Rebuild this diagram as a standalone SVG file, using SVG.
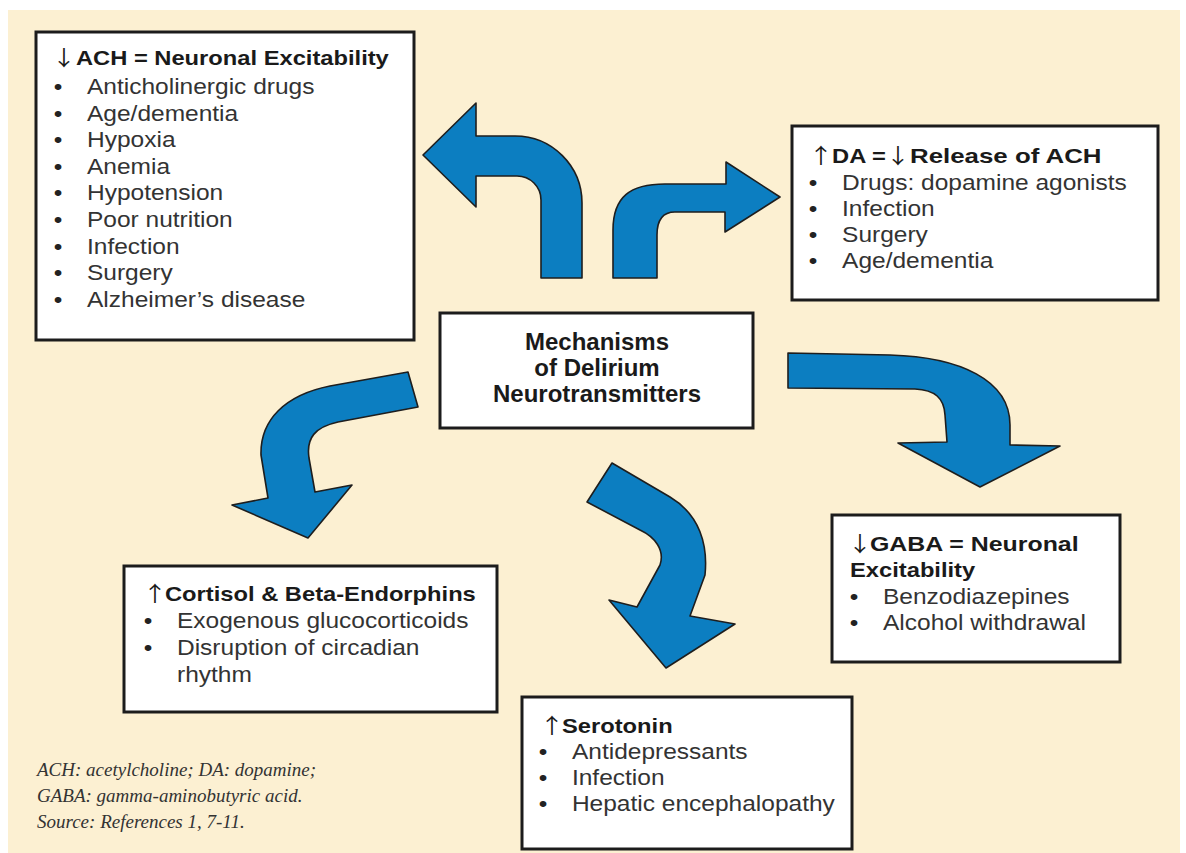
<svg xmlns="http://www.w3.org/2000/svg" width="1186" height="853" viewBox="0 0 1186 853">
  <style>
    .bg { fill: #FCF0D2; }
    .box { fill: #ffffff; stroke: #1c1c1c; stroke-width: 3; }
    .arrow { fill: #0C7EC1; stroke: #1e1e1e; stroke-width: 1.6; stroke-linejoin: round; }
    .hd { font-family: "Liberation Sans", "DejaVu Sans", Arial, sans-serif; font-weight: bold; font-size: 20.8px; fill: #1a1a1a; }
    .ar { font-family: "Noto Sans CJK JP", "DejaVu Sans", sans-serif; font-size: 21px; fill: #1a1a1a; }
    .it { font-family: "Liberation Sans", Arial, sans-serif; font-size: 21.5px; fill: #333333; }
    .bu { font-family: "Liberation Sans", Arial, sans-serif; font-size: 21.5px; fill: #222222; text-anchor: middle; }
    .ti { font-family: "Liberation Sans", Arial, sans-serif; font-weight: bold; font-size: 24px; fill: #1a1a1a; text-anchor: middle; }
    .fn { font-family: "Liberation Serif", "Times New Roman", serif; font-style: italic; font-size: 19px; fill: #333333; }
  </style>

  <!-- page background -->
  <rect x="0" y="0" width="1186" height="853" fill="#ffffff"/>
  <rect class="bg" x="8" y="10" width="1172" height="843"/>

  <!-- curved block arrows leading out of the central box -->
  <g id="connectors">
    <!-- up, then left to the ACH box -->
    <path class="arrow" d="M 582,278 L 582,203 A 67,67 0 0 0 515,136 L 476,136 L 476,103 L 423,155 L 476,207 L 476,176 L 517,176 A 24,24 0 0 1 541,200 L 541,278 Z"/>
    <!-- up, then right to the DA box -->
    <path class="arrow" d="M 613,278 L 613,230 C 613,197 630,184 665,184 L 726,184 L 726,162 L 780,197 L 725,232 L 725,212 L 675,212 C 663,212 657,220 657,235 L 657,278 Z"/>
    <!-- down-left to the cortisol box -->
    <path class="arrow" d="M 408,372 L 330,386 C 285,395 260,420 261,455 L 268,498 L 232,505 L 308,538 L 352,485 L 315,492 L 309,458 C 306,438 315,427 338,422 L 418,407 Z"/>
    <!-- down to the serotonin box -->
    <path class="arrow" d="M 612,463 L 670,497 C 700,515 708,545 705,575 L 690,616 L 735,624 L 666,668 L 609,600 L 637,607 L 660,565 C 665,550 655,537 640,530 L 587,502 Z"/>
    <!-- right, then down to the GABA box -->
    <path class="arrow" d="M 788,353 L 890,355 C 960,357 1010,380 1010,425 L 1010,445 L 1060,446 L 980,487 L 898,443 L 947,442 L 945,415 C 944,398 935,390 915,389 L 788,388 Z"/>
  </g>

  <g id="node-ach">
    <rect class="box" x="36" y="32" width="378" height="308"/>
    <g transform="translate(52,0) scale(1.14,1)">
      <text class="ar" x="0" y="65">↓</text>
      <text class="hd" x="21" y="65">ACH = Neuronal Excitability</text>
      <text class="bu" x="5.3" y="94">•</text><text class="it" x="30.7" y="94">Anticholinergic drugs</text>
      <text class="bu" x="5.3" y="120.6">•</text><text class="it" x="30.7" y="120.6">Age/dementia</text>
      <text class="bu" x="5.3" y="147.2">•</text><text class="it" x="30.7" y="147.2">Hypoxia</text>
      <text class="bu" x="5.3" y="173.8">•</text><text class="it" x="30.7" y="173.8">Anemia</text>
      <text class="bu" x="5.3" y="200.4">•</text><text class="it" x="30.7" y="200.4">Hypotension</text>
      <text class="bu" x="5.3" y="227">•</text><text class="it" x="30.7" y="227">Poor nutrition</text>
      <text class="bu" x="5.3" y="253.6">•</text><text class="it" x="30.7" y="253.6">Infection</text>
      <text class="bu" x="5.3" y="280.2">•</text><text class="it" x="30.7" y="280.2">Surgery</text>
      <text class="bu" x="5.3" y="306.8">•</text><text class="it" x="30.7" y="306.8">Alzheimer’s disease</text>
    </g>
  </g>

  <g id="node-da">
    <rect class="box" x="792" y="126" width="366" height="174"/>
    <g transform="translate(809,0) scale(1.14,1)">
      <text class="ar" x="0" y="163">↑</text>
      <text class="hd" x="20.2" y="163">DA =</text>
      <text class="ar" x="67.5" y="163">↓</text>
      <text class="hd" x="88.6" y="163" textLength="168" lengthAdjust="spacingAndGlyphs">Release of ACH</text>
      <text class="bu" x="3.5" y="190">•</text><text class="it" x="29" y="190">Drugs: dopamine agonists</text>
      <text class="bu" x="3.5" y="216">•</text><text class="it" x="29" y="216">Infection</text>
      <text class="bu" x="3.5" y="242">•</text><text class="it" x="29" y="242">Surgery</text>
      <text class="bu" x="3.5" y="268">•</text><text class="it" x="29" y="268">Age/dementia</text>
    </g>
  </g>

  <g id="node-center">
    <rect class="box" x="440" y="313" width="313" height="115"/>
    <text class="ti" x="597" y="350">Mechanisms</text>
    <text class="ti" x="597" y="376">of Delirium</text>
    <text class="ti" x="597" y="402">Neurotransmitters</text>
  </g>

  <g id="node-cortisol">
    <rect class="box" x="124" y="566" width="373" height="146"/>
    <g transform="translate(143,0) scale(1.14,1)">
      <text class="ar" x="0" y="601.5">↑</text>
      <text class="hd" x="19.3" y="601.5">Cortisol &amp; Beta-Endorphins</text>
      <text class="bu" x="4.4" y="628.5">•</text><text class="it" x="29.8" y="628.5">Exogenous glucocorticoids</text>
      <text class="bu" x="4.4" y="655.5">•</text><text class="it" x="29.8" y="655.5">Disruption of circadian</text>
      <text class="it" x="29.8" y="682.5">rhythm</text>
    </g>
  </g>

  <g id="node-serotonin">
    <rect class="box" x="522" y="697" width="330" height="152"/>
    <g transform="translate(540,0) scale(1.14,1)">
      <text class="ar" x="0" y="733">↑</text>
      <text class="hd" x="19.3" y="733">Serotonin</text>
      <text class="bu" x="2.6" y="759">•</text><text class="it" x="28" y="759">Antidepressants</text>
      <text class="bu" x="2.6" y="785">•</text><text class="it" x="28" y="785">Infection</text>
      <text class="bu" x="2.6" y="811">•</text><text class="it" x="28" y="811">Hepatic encephalopathy</text>
    </g>
  </g>

  <g id="node-gaba">
    <rect class="box" x="832" y="515" width="288" height="147"/>
    <g transform="translate(848,0) scale(1.14,1)">
      <text class="ar" x="0" y="551">↓</text>
      <text class="hd" x="19.3" y="551" textLength="183" lengthAdjust="spacingAndGlyphs">GABA = Neuronal</text>
      <text class="hd" x="1.8" y="577">Excitability</text>
      <text class="bu" x="5.3" y="604">•</text><text class="it" x="30.7" y="604">Benzodiazepines</text>
      <text class="bu" x="5.3" y="630">•</text><text class="it" x="30.7" y="630">Alcohol withdrawal</text>
    </g>
  </g>

  <!-- abbreviations and sources -->
  <g id="footnote">
    <text class="fn" x="37" y="776">ACH: acetylcholine; DA: dopamine;</text>
    <text class="fn" x="37" y="802">GABA: gamma-aminobutyric acid.</text>
    <text class="fn" x="37" y="828">Source: References 1, 7-11.</text>
  </g>
</svg>
